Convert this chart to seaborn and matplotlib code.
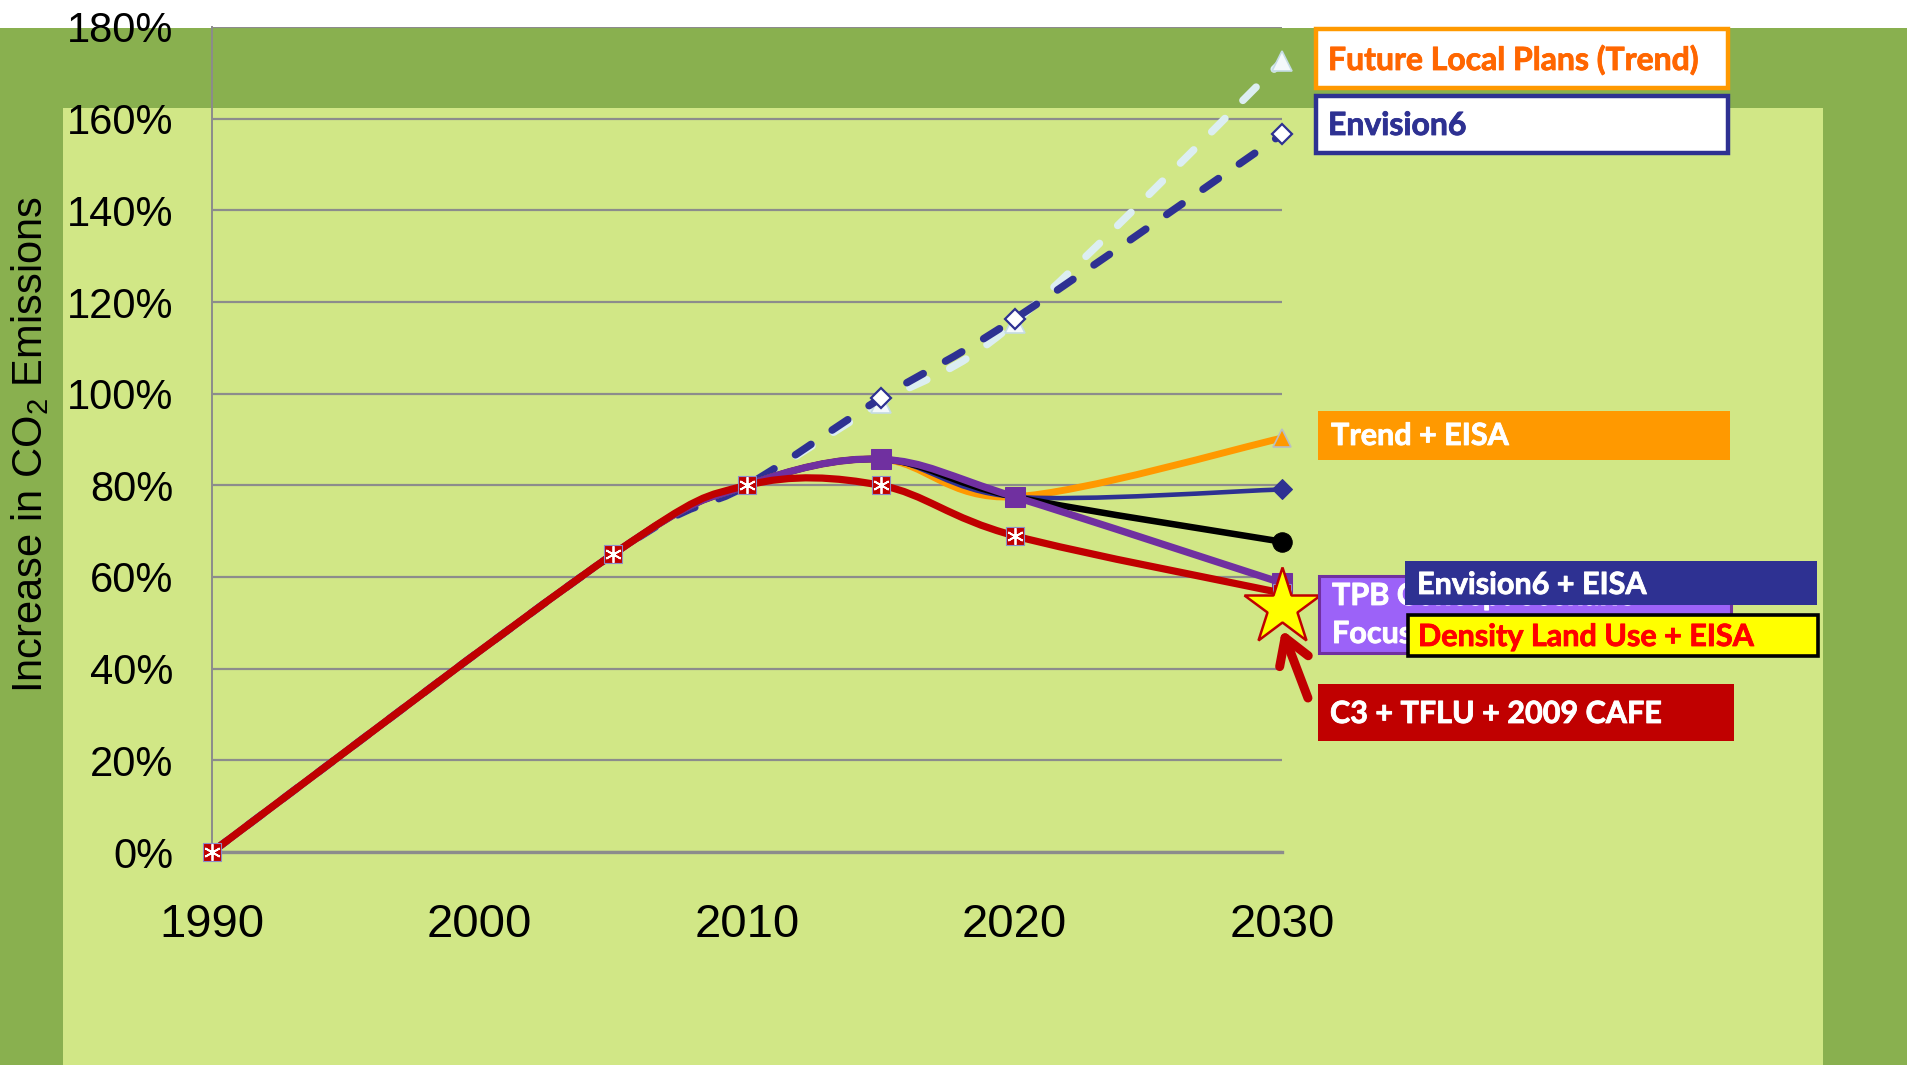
import numpy as np
import pandas as pd
import matplotlib
matplotlib.use("Agg")
import matplotlib.pyplot as plt
import matplotlib.patheffects as pe
import seaborn as sns
from matplotlib.path import Path
from matplotlib.patches import PathPatch, Rectangle
from matplotlib.ticker import PercentFormatter, FixedLocator

# ---------------- data ----------------
years = [1990, 2005, 2010, 2015, 2020, 2030]
future_local_plans_trend = [0.00, 0.65, 0.80, 0.980, 1.155, 1.725]
envision6 = [0.00, 0.65, 0.80, 0.990, 1.163, 1.566]
trend_eisa = [0.00, 0.65, 0.80, 0.857, 0.775, 0.903]
envision6_eisa = [0.00, 0.65, 0.80, 0.857, 0.775, 0.791]
unlabeled_scenario = [0.00, 0.65, 0.80, 0.857, 0.775, 0.677]
tpb_focus = [0.00, 0.65, 0.80, 0.857, 0.775, 0.587]
c3_tflu_cafe = [0.00, 0.65, 0.80, 0.800, 0.690, 0.565]
density_year = [2030]
density_land_use_eisa = [0.535]

x_ticks = [1990, 2000, 2010, 2020, 2030]
y_ticks = [0.0, 0.2, 0.4, 0.6, 0.8, 1.0, 1.2, 1.4, 1.6, 1.8]
y_title = "Increase in CO$_{\\mathrm{2}}$ Emissions"

label_flp = "Future Local Plans (Trend)"
label_env6 = "Envision6"
label_trend_eisa = "Trend + EISA"
label_tpb = ["TPB Concept Scenario", "Focused Growth"]
label_env6_eisa = "Envision6 + EISA"
label_density = "Density Land Use + EISA"
label_c3 = "C3 + TFLU + 2009 CAFE"

# ---------------- style ----------------
W, H = 1908, 1065
sns.set_style("white")
plt.rcParams["font.family"] = ["Liberation Sans", "DejaVu Sans"]
plt.rcParams["mathtext.fontset"] = "custom"
plt.rcParams["mathtext.rm"] = "Liberation Sans"
plt.rcParams["mathtext.it"] = "Liberation Sans:italic"
plt.rcParams["mathtext.bf"] = "Liberation Sans:bold"

DARK_GREEN = "#89B04F"
LIGHT_GREEN = "#D1E786"
GRID = "#8C8C8C"
NAVY = "#2E3192"
ORANGE = "#FF9900"
PURPLE = "#7030A0"
RED = "#C00000"
LIGHT = "#DCEEF2"

fig = plt.figure(figsize=(W / 100, H / 100), dpi=100)
fig.patch.set_facecolor("white")


def fx(x):
    return x / W


def fy(y):
    return 1 - y / H


# background panels
fig.add_artist(Rectangle((0, 0), 1, fy(28), transform=fig.transFigure,
                         facecolor=DARK_GREEN, edgecolor="none", zorder=-20))
fig.add_artist(Rectangle((fx(63), 0), fx(1823) - fx(63), fy(108), transform=fig.transFigure,
                         facecolor=LIGHT_GREEN, edgecolor="none", zorder=-19))

ax = fig.add_axes([fx(212), fy(852), fx(1282) - fx(212), fy(27) - fy(852)])
ax.set_facecolor("none")


def smooth_path(xs, ys):
    pts = np.column_stack([xs, ys]).astype(float)
    n = len(pts)
    verts = [pts[0]]
    codes = [Path.MOVETO]
    for i in range(n - 1):
        p_prev = pts[max(i - 1, 0)]
        p0, p1 = pts[i], pts[i + 1]
        p_next = pts[min(i + 2, n - 1)]
        verts += [p0 + (p1 - p_prev) / 6.0, p1 - (p_next - p0) / 6.0, p1]
        codes += [Path.CURVE4] * 3
    return Path(verts, codes)


def draw_curve(ys, color, lw, z, dashed=False):
    patch = PathPatch(smooth_path(years, ys), facecolor="none", edgecolor=color,
                      linewidth=lw, zorder=z, clip_on=False, capstyle="round",
                      joinstyle="round")
    if dashed:
        patch.set_linestyle((0, (2.5, 3.4)))
    ax.add_patch(patch)


def draw_markers(xs, ys, z, **kw):
    sns.lineplot(x=xs, y=ys, ax=ax, linestyle="", legend=False, zorder=z,
                 clip_on=False, **kw)


# lines (bottom to top)
draw_curve(future_local_plans_trend, LIGHT, 5.4, 2, dashed=True)
draw_curve(envision6, NAVY, 5.4, 3, dashed=True)
draw_curve(trend_eisa, ORANGE, 5.0, 4)
draw_curve(envision6_eisa, NAVY, 3.3, 5)
draw_curve(unlabeled_scenario, "black", 4.7, 6)
draw_curve(tpb_focus, PURPLE, 5.2, 7)
draw_curve(c3_tflu_cafe, RED, 5.2, 8)

# markers
draw_markers(years[3:], future_local_plans_trend[3:], 2.5, color="#F4F9FB", marker="^",
             markersize=15, markeredgecolor="#C5DCE3", markeredgewidth=1.2)
draw_markers(years[3:], envision6[3:], 3.5, color="white", marker="D",
             markersize=10, markeredgecolor=NAVY, markeredgewidth=1.6)
draw_markers(years[3:], trend_eisa[3:], 4.5, color=ORANGE, marker="^",
             markersize=13, markeredgecolor="#B8BEC4", markeredgewidth=1.2)
draw_markers(years[3:], envision6_eisa[3:], 5.5, color=NAVY, marker="D",
             markersize=10, markeredgecolor=NAVY)
draw_markers(years[3:], unlabeled_scenario[3:], 6.5, color="black", marker="o",
             markersize=14, markeredgecolor="black")
draw_markers(years[3:], tpb_focus[3:], 7.5, color=PURPLE, marker="s",
             markersize=15, markeredgecolor=PURPLE)
draw_markers(years, c3_tflu_cafe, 8.5, color=RED, marker="s",
             markersize=13.5, markeredgecolor="#8C8CC8", markeredgewidth=0.8)
draw_markers(years, c3_tflu_cafe, 8.6, color="#E2E2E2", marker=(6, 2, 0),
             markersize=12, markeredgewidth=1.3)
draw_markers(density_year, density_land_use_eisa, 9, color="#FFFF00", marker="*",
             markersize=58, markeredgecolor=RED, markeredgewidth=1.8)

# arrow pointing at the star
ax.annotate("", xy=(density_year[0], 0.485), xytext=(2030.97, 0.336),
            xycoords="data", textcoords="data", annotation_clip=False,
            arrowprops=dict(arrowstyle="->, head_length=0.9, head_width=0.55",
                            color=RED, lw=6.5, mutation_scale=20,
                            shrinkA=0, shrinkB=0, capstyle="round"),
            zorder=10)

# axes styling
ax.set_xlim(1990, 2030)
ax.set_ylim(0, 1.8)
ax.xaxis.set_major_locator(FixedLocator(x_ticks))
ax.yaxis.set_major_locator(FixedLocator(y_ticks))
ax.yaxis.set_major_formatter(PercentFormatter(1.0, decimals=0))
ax.grid(axis="y", color=GRID, linewidth=1.6, zorder=0)
ax.grid(axis="x", visible=False)
ax.set_axisbelow(True)
for side in ["top", "right"]:
    ax.spines[side].set_visible(False)
ax.spines["left"].set_color(GRID)
ax.spines["left"].set_linewidth(1.4)
ax.spines["bottom"].set_color(GRID)
ax.spines["bottom"].set_linewidth(2.4)
ax.tick_params(axis="y", direction="out", length=9, width=1.4, color=GRID,
               labelsize=30, pad=19, labelcolor="black")
ax.tick_params(axis="x", direction="out", length=11, width=1.2, color=GRID,
               labelsize=34, pad=26, labelcolor="black")
ax.set_xlabel("")
ax.set_ylabel("")
fig.text(fx(30), fy(444), y_title, rotation=90, ha="center", va="center",
         fontsize=30, color="black")

# label boxes
BOX_FONT = ["Lato", "DejaVu Sans"]


def label_box(x0, y0, x1, y1, face, edge, lw, z):
    ax.add_patch(Rectangle((fx(x0), fy(y1)), fx(x1) - fx(x0), fy(y0) - fy(y1),
                           transform=fig.transFigure, facecolor=face, edgecolor=edge,
                           linewidth=lw, clip_on=False, zorder=z))


def label_text(x, baseline, s, color, size, z):
    ax.text(fx(x), fy(baseline), s, transform=fig.transFigure, ha="left",
            va="baseline", color=color, fontsize=size, fontweight="bold",
            family=BOX_FONT, zorder=z, clip_on=False,
            path_effects=[pe.withStroke(linewidth=0.6, foreground=color)])


label_box(1316, 29, 1728, 88, "white", ORANGE, 3.2, 20)
label_text(1328, 70, label_flp, "#FF6600", 23, 21)
label_box(1316, 96, 1728, 153, "white", NAVY, 3.2, 20)
label_text(1328, 135, label_env6, NAVY, 23, 21)
label_box(1318, 411, 1730, 460, ORANGE, "none", 0, 20)
label_text(1331, 445, label_trend_eisa, "white", 22, 21)
label_box(1319, 576, 1731, 653, "#9C62F8", PURPLE, 2.2, 20)
label_text(1332, 605, label_tpb[0], "white", 22, 21)
label_text(1332, 643, label_tpb[1], "white", 22, 21)
label_box(1405, 561, 1817, 605, NAVY, "none", 0, 22)
label_text(1417, 594, label_env6_eisa, "white", 22, 23)
label_box(1408, 615, 1818, 656, "#FFFF00", "black", 2.6, 22)
label_text(1418, 646, label_density, "#FF0000", 22, 23)
label_box(1318, 684, 1734, 741, RED, "none", 0, 20)
label_text(1330, 723, label_c3, "white", 22, 21)

fig.savefig("out.png", dpi=100, facecolor=fig.get_facecolor())
